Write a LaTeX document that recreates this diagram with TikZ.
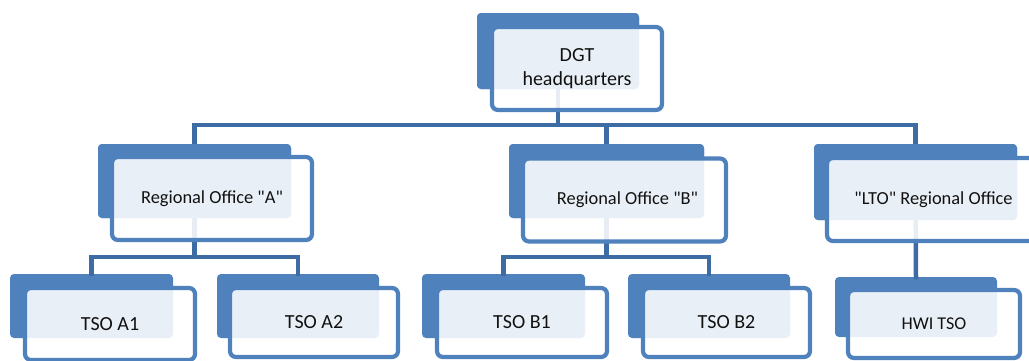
\documentclass[tikz,border=0pt]{standalone}
\usepackage{fontspec}
\setmainfont{Carlito}[Ligatures=TeXOff]
\definecolor{accent}{HTML}{4F81BD}
\definecolor{connc}{HTML}{3D6BA3}
\definecolor{txt}{HTML}{111111}
\begin{document}
\begin{tikzpicture}[x=1pt,y=-1pt,
  backbox/.style={fill=accent, draw=none, rounded corners=4pt, inner sep=0pt, outer sep=0pt},
  frontbox/.style={draw=accent, line width=4.2pt, fill=white, fill opacity=0.88, text opacity=1,
     rounded corners=6pt, inner sep=0pt, outer sep=0pt, text=txt, align=center},
  conn/.style={draw=connc, line width=4.5pt, line join=miter, line cap=rect},
  big/.style={font=\fontsize{20}{24}\selectfont},
  mid/.style={font=\fontsize{18.4}{22}\selectfont},
  small/.style={font=\fontsize{18}{22}\selectfont}]
\useasboundingbox (0,0) rectangle (1029,360);
% back boxes
\node[backbox, minimum width=162pt, minimum height=76pt] (dgtb) at (558,51) {};
\node[backbox, minimum width=193pt, minimum height=74pt] (roab) at (194.5,181) {};
\node[backbox, minimum width=195pt, minimum height=74pt] (robb) at (606.5,181) {};
\node[backbox, minimum width=203pt, minimum height=76pt] (ltob) at (915.5,182) {};
\node[backbox, minimum width=163pt, minimum height=64pt] (a1b) at (91.5,306) {};
\node[backbox, minimum width=162pt, minimum height=64pt] (a2b) at (298,306) {};
\node[backbox, minimum width=163pt, minimum height=64pt] (b1b) at (503.5,306) {};
\node[backbox, minimum width=162pt, minimum height=64pt] (b2b) at (709,306) {};
\node[backbox, minimum width=162pt, minimum height=60pt] (hwib) at (916,307) {};
% connectors
\coordinate (h1) at (0,125);
\coordinate (h2) at (0,257);
\draw[conn] (dgtb.center) -- (dgtb.center |- h1);
\draw[conn] (roab.north) |- (h1 -| ltob.north) -- (ltob.north);
\draw[conn] (robb.north) -- (robb.north |- h1);
\draw[conn] (roab.center) -- (roab.center |- h2);
\draw[conn] (a1b.north) |- (h2 -| a2b.north) -- (a2b.north);
\draw[conn] (robb.center) -- (robb.center |- h2);
\draw[conn] (b1b.north) |- (h2 -| b2b.north) -- (b2b.north);
\draw[conn] (ltob.center) -- (hwib.north);
% redraw back boxes over connectors
\node[backbox, minimum width=162pt, minimum height=76pt] at (dgtb) {};
\node[backbox, minimum width=193pt, minimum height=74pt] at (roab) {};
\node[backbox, minimum width=195pt, minimum height=74pt] at (robb) {};
\node[backbox, minimum width=203pt, minimum height=76pt] at (ltob) {};
% front boxes
\node[frontbox, big, minimum width=170pt, minimum height=83pt] (dgt) at (577,68.5) {DGT\\headquarters};
\node[frontbox, mid, minimum width=200pt, minimum height=83pt] (roa) at (212,198.5) {Regional Office "A"};
\node[frontbox, mid, minimum width=203pt, minimum height=83pt] (rob) at (624.5,200) {\hspace*{6pt}Regional Office "B"};
\node[frontbox, mid, minimum width=213pt, minimum height=83pt] (lto) at (933.5,199.5) {"LTO" Regional Office};
\node[frontbox, big, minimum width=170pt, minimum height=72pt] (a1) at (110,324) {TSO A1};
\node[frontbox, big, minimum width=168pt, minimum height=69pt] (a2) at (314,322.5) {TSO A2};
\node[frontbox, big, minimum width=170pt, minimum height=69pt] (b1) at (522,322.5) {TSO B1};
\node[frontbox, big, minimum width=167pt, minimum height=69pt] (b2) at (726.5,322.5) {TSO B2};
\node[frontbox, small, minimum width=172pt, minimum height=68pt] (hwi) at (934,324) {HWI TSO};
\end{tikzpicture}
\end{document}
